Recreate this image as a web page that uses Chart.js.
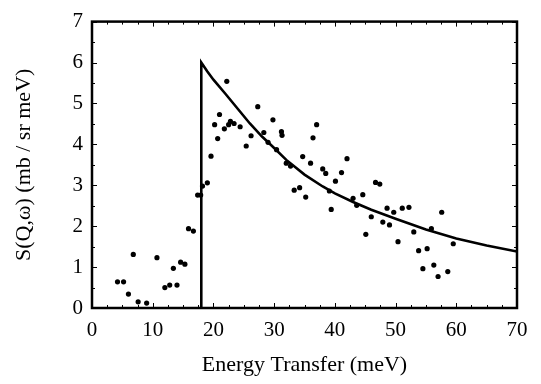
<!DOCTYPE html>
<html>
<head>
<meta charset="utf-8">
<script src="https://cdn.jsdelivr.net/npm/chart.js@4/dist/chart.umd.min.js"></script>
<style>
  html, body { margin: 0; padding: 0; background: #fff; }
  #wrap { width: 541px; height: 384px; }
</style>
</head>
<body>
<div id="wrap"><canvas id="myChart" width="541" height="384"></canvas></div>
<script>
// measured points (energy transfer in meV, S in mb/sr meV)
const dataX = [4.2, 5.2, 6.0, 6.8, 7.6, 9.0, 10.7, 12.0, 12.8, 13.4, 14.0, 14.6, 15.3, 15.9, 16.7, 17.4, 17.9,
  18.2, 19.0, 19.6, 20.2, 20.7, 21.0, 21.8, 22.2, 22.5, 22.8, 23.4, 24.4, 25.4, 26.2, 27.3, 28.3, 29.0, 29.8,
  30.4, 31.2, 31.3, 32.0, 32.7, 33.3, 34.2, 34.7, 35.2, 36.0, 36.4, 37.0, 38.0, 38.5, 39.1, 39.4, 40.1, 41.1,
  42.0, 43.0, 43.6, 44.6, 45.1, 46.0, 46.7, 47.4, 47.9, 48.6, 49.0, 49.7, 50.4, 51.1, 52.2, 53.0, 53.8, 54.5,
  55.2, 55.9, 56.3, 57.0, 57.6, 58.6, 59.5];
const dataY = [0.64, 0.64, 0.34, 1.31, 0.15, 0.12, 1.23, 0.50, 0.56, 0.97, 0.56, 1.12, 1.07, 1.94, 1.88, 2.76, 2.76,
  2.98, 3.06, 3.71, 4.48, 4.14, 4.73, 4.38, 5.54, 4.48, 4.56, 4.51, 4.43, 3.96, 4.21, 4.92, 4.29, 4.05, 4.60,
  3.87, 4.31, 4.22, 3.54, 3.47, 2.88, 2.94, 3.70, 2.71, 3.54, 4.16, 4.48, 3.40, 3.29, 2.86, 2.41, 3.10, 3.31,
  3.65, 2.68, 2.51, 2.77, 1.80, 2.23, 3.07, 3.03, 2.10, 2.44, 2.03, 2.34, 1.62, 2.44, 2.46, 1.86, 1.40, 0.96,
  1.45, 1.94, 1.05, 0.77, 2.34, 0.89, 1.57];

// model curve (vertical edge at 18 meV, then decaying)
const curveX = [18, 18, 19, 20, 22, 24, 26, 28, 30, 32, 35, 38, 40, 43, 46, 50, 55, 60, 65, 70];
const curveY = [0, 6.0, 5.78, 5.58, 5.23, 4.87, 4.51, 4.19, 3.91, 3.62, 3.26, 2.97, 2.80, 2.59, 2.40, 2.18, 1.92, 1.70, 1.53, 1.38];

const xTicks = [0, 10, 20, 30, 40, 50, 60, 70];
const yTicks = [0, 1, 2, 3, 4, 5, 6, 7];

const serif = "'Liberation Serif', 'Times New Roman', serif";

// frame + inward tick marks on all four sides
const frame = {
  id: 'frame',
  afterDatasetsDraw(chart) {
    const {ctx, chartArea: a, scales: {x, y}} = chart;
    ctx.save();
    ctx.strokeStyle = '#000';
    ctx.lineWidth = 1;
    ctx.beginPath();
    for (let v = 0; v <= 70.01; v += 2.5) {
      const px = Math.round(x.getPixelForValue(v)) + 0.5;
      const len = (v % 10 === 0) ? 5 : 3;
      ctx.moveTo(px, a.bottom); ctx.lineTo(px, a.bottom - len);
      ctx.moveTo(px, a.top); ctx.lineTo(px, a.top + len);
    }
    for (let v = 0; v <= 7.01; v += 0.5) {
      const py = Math.round(y.getPixelForValue(v)) + 0.5;
      const len = (v % 1 === 0) ? 5 : 3;
      ctx.moveTo(a.left, py); ctx.lineTo(a.left + len, py);
      ctx.moveTo(a.right, py); ctx.lineTo(a.right - len, py);
    }
    ctx.stroke();
    ctx.lineWidth = 2.5;
    ctx.strokeRect(a.left, a.top, a.right - a.left, a.bottom - a.top);
    ctx.restore();
  }
};

const ctx = document.getElementById('myChart');
new Chart(ctx, {
  type: 'scatter',
  data: {
    datasets: [{
      type: 'line',
      data: curveX.map((v, i) => ({x: v, y: curveY[i]})),
      borderColor: '#000',
      borderWidth: 2.6,
      pointRadius: 0,
      tension: 0,
      fill: false,
      order: 2
    }, {
      data: dataX.map((v, i) => ({x: v, y: dataY[i]})),
      backgroundColor: '#000',
      borderColor: '#000',
      borderWidth: 0,
      pointRadius: 2.6,
      order: 1
    }]
  },
  options: {
    responsive: false,
    animation: false,
    layout: { padding: { left: 0, top: 10, right: 24, bottom: 0 } },
    plugins: { legend: { display: false }, tooltip: { enabled: false } },
    scales: {
      x: {
        type: 'linear',
        min: 0, max: 70,
        afterFit: (s) => { s.height = 76; },
        afterBuildTicks: (s) => { s.ticks = xTicks.map(v => ({value: v})); },
        grid: { display: false, drawTicks: false },
        border: { display: false },
        ticks: { color: '#000', font: { family: serif, size: 21 }, padding: 10, maxRotation: 0 },
        title: { display: true, text: 'Energy Transfer (meV)', color: '#000',
          font: { family: serif, size: 22 }, padding: { top: 0, bottom: 6 } }
      },
      y: {
        type: 'linear',
        min: 0, max: 7,
        afterFit: (s) => { s.width = 92; },
        afterBuildTicks: (s) => { s.ticks = yTicks.map(v => ({value: v})); },
        grid: { display: false, drawTicks: false },
        border: { display: false },
        ticks: { color: '#000', font: { family: serif, size: 21 }, padding: 9 },
        title: { display: true, text: 'S(Q,ω) (mb / sr meV)', color: '#000',
          font: { family: serif, size: 22 }, padding: { top: 11, bottom: 0 } }
      }
    }
  },
  plugins: [frame]
});
</script>
</body>
</html>
